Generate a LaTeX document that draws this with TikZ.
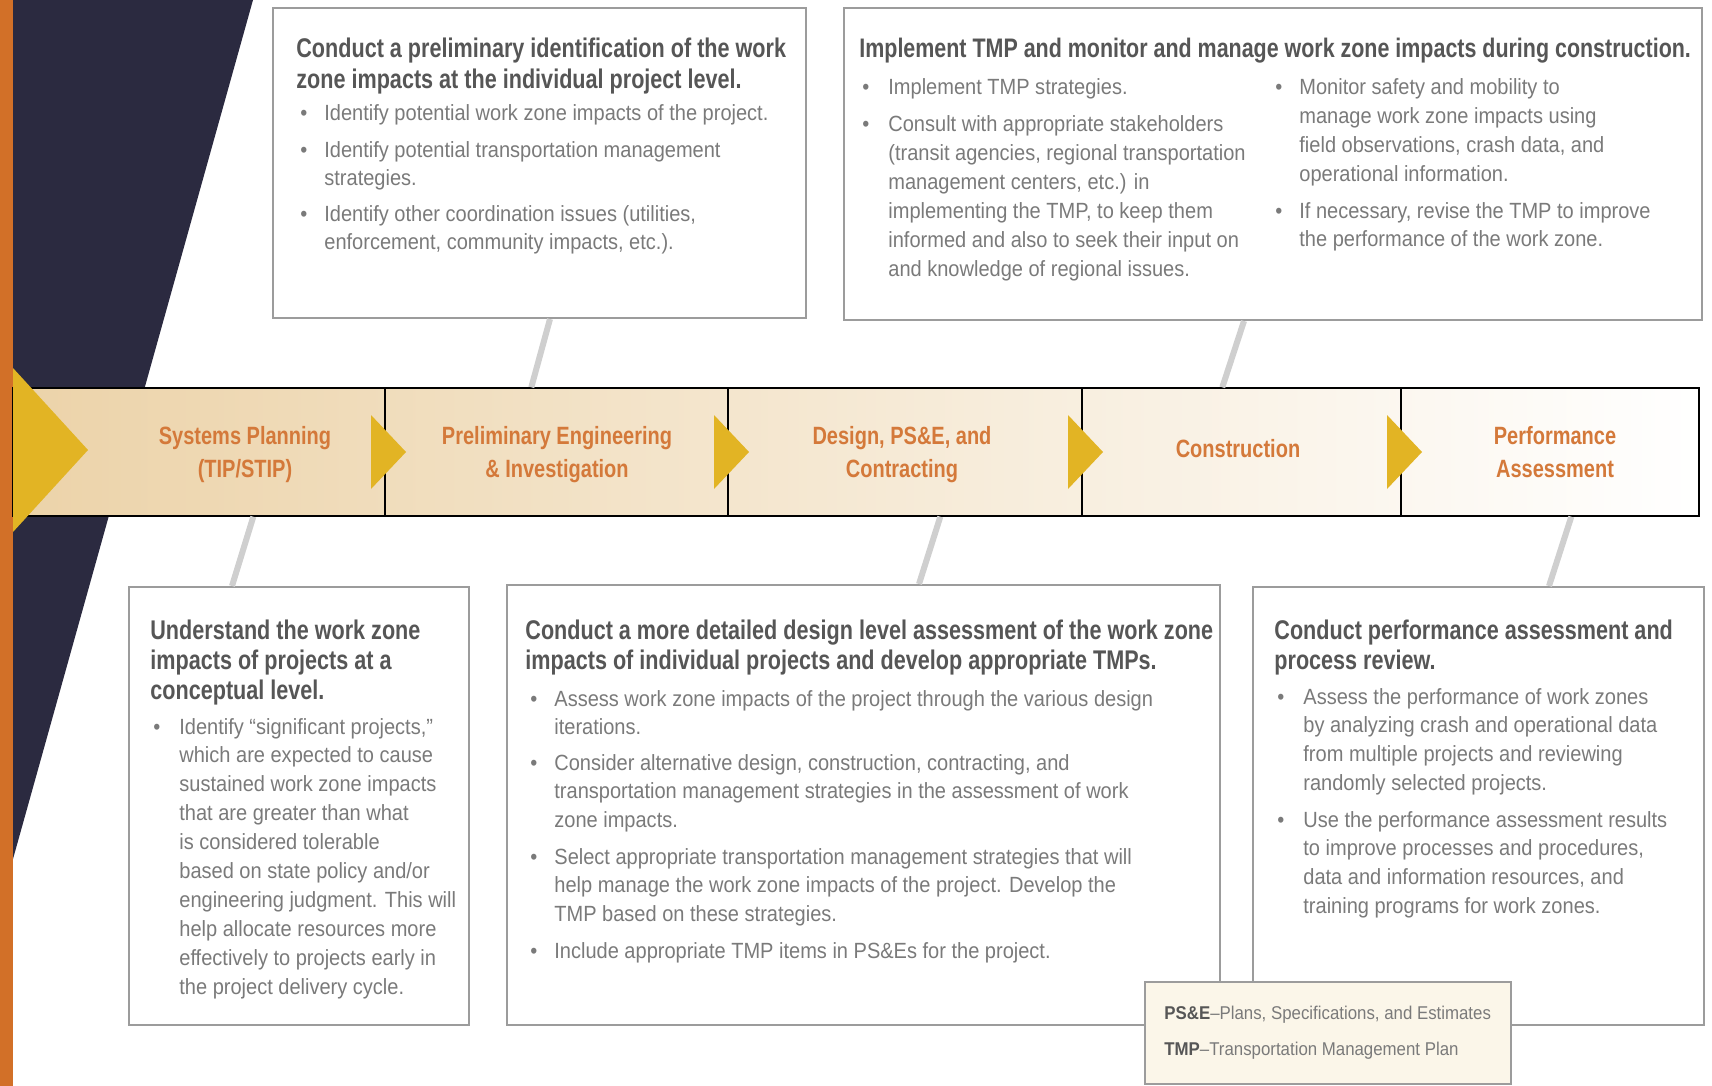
\documentclass[tikz,border=0pt]{standalone}
\usepackage{fontspec}
\setmainfont{Liberation Sans}[FakeStretch=0.91]
\newfontfamily\condb{Liberation Sans}[FakeStretch=0.8]
\usetikzlibrary{fit,calc}
\definecolor{navy}{HTML}{2B2A40}
\definecolor{orangebar}{HTML}{D27028}
\definecolor{arrowyel}{HTML}{E2B424}
\definecolor{bandtan}{HTML}{ECD3A9}
\definecolor{stageor}{HTML}{D4793A}
\definecolor{ttlgray}{HTML}{565656}
\definecolor{bodygray}{HTML}{7A7A7A}
\definecolor{boxgray}{HTML}{9C9C9C}
\definecolor{conngray}{HTML}{CFCFCF}
\definecolor{legcream}{HTML}{FBF6E9}
\newcommand\mlines[1]{\begin{tabular}[t]{@{}l@{}}#1\end{tabular}}
\begin{document}
\begin{tikzpicture}[x=0.5pt,y=-0.5pt,
  boxst/.style={draw=boxgray, line width=1pt, fill=white, inner sep=0pt},
  segst/.style={draw=black, line width=0.7pt, inner sep=0pt},
  ttl/.style={font=\condb\bfseries\fontsize{13.5}{15.2}\selectfont, text=ttlgray, inner sep=0pt, anchor=base west},
  bdy/.style={font=\fontsize{11}{14.45}\selectfont, text=bodygray, inner sep=0pt, anchor=base west},
  stage/.style={font=\condb\bfseries\fontsize{12.5}{16.5}\selectfont, text=stageor, align=center, inner sep=0pt},
  leg/.style={font=\fontsize{9.25}{11}\selectfont, text=bodygray, inner sep=0pt, anchor=base west},
  conn/.style={draw=conngray, line width=3pt},
  tri/.style={fill=arrowyel}
]
\useasboundingbox (0,0) rectangle (1712,1086);
\fill[white] (0,0) rectangle (1712,1086);
% background shapes
\fill[navy] (13,0) -- (253,0) -- (13,859) -- cycle;
\fill[orangebar] (0,0) rectangle (13,1086);

% band
\shade[left color=bandtan, right color=white] (13,388) rectangle (1699,516);
\node[segst, fit={(13,388) (385,516)}] (seg1) {};
\node[segst, fit={(385,388) (728,516)}] (seg2) {};
\node[segst, fit={(728,388) (1082,516)}] (seg3) {};
\node[segst, fit={(1082,388) (1401,516)}] (seg4) {};
\node[segst, fit={(1401,388) (1699,516)}] (seg5) {};
\fill[tri] (13,368) -- (88,450) -- (13,532) -- cycle;
\foreach \d in {385,728,1082,1401}{
  \fill[tri] (\d-14,415) -- (\d+21,452) -- (\d-14,489) -- cycle;
}
\node[stage] (lab1) at (245,455) {Systems Planning\\(TIP/STIP)};
\node[stage] (lab2) at (557,455) {Preliminary Engineering\\\& Investigation};
\node[stage] (lab3) at (902,455) {Design, PS\&E, and\\Contracting};
\node[stage] (lab4) at (1238,449) {Construction};
\node[stage] (lab5) at (1555,452) {Performance\\Assessment};

% boxes
\node[boxst, fit={(273,8) (806,318)}] (boxA) {};
\node[boxst, fit={(844,8) (1702,320)}] (boxB) {};
\node[boxst, fit={(129,587) (469,1025)}] (boxC) {};
\node[boxst, fit={(507,585) (1220,1025)}] (boxD) {};
\node[boxst, fit={(1253,587) (1704,1025)}] (boxE) {};

% connectors
\draw[conn] ($(boxA.south west)+(278,0)$) -- ($(seg2.north west)+(147,0)$);
\draw[conn] ($(boxB.south west)+(401,0)$) -- ($(seg4.north west)+(141,0)$);
\draw[conn] ($(seg1.south west)+(241,0)$) -- ($(boxC.north west)+(104,0)$);
\draw[conn] ($(seg3.south west)+(213,0)$) -- ($(boxD.north west)+(413,0)$);
\draw[conn] ($(seg5.south west)+(171,0)$) -- ($(boxE.north west)+(297,0)$);

% box A
\node[ttl] (tA) at (296,58) {\mlines{Conduct a preliminary identification of the work\\zone impacts at the individual project level.}};
\node[bdy] (dA1) at (300,120) {•};
\node[bdy] (iA1) at (324,120) {Identify potential work zone impacts of the project.};
\node[bdy] (dA2) at (300,157) {•};
\node[bdy] (iA2) at (324,157) {\mlines{Identify potential transportation management\\strategies.}};
\node[bdy] (dA3) at (300,221) {•};
\node[bdy] (iA3) at (324,221) {\mlines{Identify other coordination issues (utilities,\\enforcement, community impacts, etc.).}};

% box B
\node[ttl, font=\condb\bfseries\fontsize{13.4}{15.2}\selectfont] (tB) at (859,58) {Implement TMP and monitor and manage work zone impacts during construction.};
\node[bdy] (dB1) at (862,95) {•};
\node[bdy] (iB1) at (888,95) {Implement TMP strategies.};
\node[bdy] (dB2) at (862,132) {•};
\node[bdy] (iB2) at (888,132) {\mlines{Consult with appropriate stakeholders\\(transit agencies, regional transportation\\management centers, etc.) in\\implementing the TMP, to keep them\\informed and also to seek their input on\\and knowledge of regional issues.}};
\node[bdy] (dB3) at (1275,95) {•};
\node[bdy] (iB3) at (1299,95) {\mlines{Monitor safety and mobility to\\manage work zone impacts using\\field observations, crash data, and\\operational information.}};
\node[bdy] (dB4) at (1275,218) {•};
\node[bdy] (iB4) at (1299,218) {\mlines{If necessary, revise the TMP to improve\\the performance of the work zone.}};

% box C
\node[ttl] (tC) at (150,639) {\mlines{Understand the work zone\\impacts of projects at a\\conceptual level.}};
\node[bdy] (dC1) at (153,734) {•};
\node[bdy] (iC1) at (179,734) {\mlines{Identify “significant projects,”\\which are expected to cause\\sustained work zone impacts\\that are greater than what\\is considered tolerable\\based on state policy and/or\\engineering judgment. This will\\help allocate resources more\\effectively to projects early in\\the project delivery cycle.}};

% box D
\node[ttl] (tD) at (525,639) {\mlines{Conduct a more detailed design level assessment of the work zone\\impacts of individual projects and develop appropriate TMPs.}};
\node[bdy] (dD1) at (530,706) {•};
\node[bdy] (iD1) at (554,706) {\mlines{Assess work zone impacts of the project through the various design\\iterations.}};
\node[bdy] (dD2) at (530,770) {•};
\node[bdy] (iD2) at (554,770) {\mlines{Consider alternative design, construction, contracting, and\\transportation management strategies in the assessment of work\\zone impacts.}};
\node[bdy] (dD3) at (530,864) {•};
\node[bdy] (iD3) at (554,864) {\mlines{Select appropriate transportation management strategies that will\\help manage the work zone impacts of the project. Develop the\\TMP based on these strategies.}};
\node[bdy] (dD4) at (530,958) {•};
\node[bdy] (iD4) at (554,958) {Include appropriate TMP items in PS\&Es for the project.};

% box E
\node[ttl] (tE) at (1274,639) {\mlines{Conduct performance assessment and\\process review.}};
\node[bdy] (dE1) at (1277,704) {•};
\node[bdy] (iE1) at (1303,704) {\mlines{Assess the performance of work zones\\by analyzing crash and operational data\\from multiple projects and reviewing\\randomly selected projects.}};
\node[bdy] (dE2) at (1277,827) {•};
\node[bdy] (iE2) at (1303,827) {\mlines{Use the performance assessment results\\to improve processes and procedures,\\data and information resources, and\\training programs for work zones.}};

% legend
\node[boxst, fill=legcream, fit={(1145,982) (1511,1084)}] (legend) {};
\node[leg] (leg1) at (1164,1019) {\textcolor{ttlgray}{\bfseries PS\&E}–Plans, Specifications, and Estimates};
\node[leg] (leg2) at (1164,1055) {\textcolor{ttlgray}{\bfseries TMP}–Transportation Management Plan};
\end{tikzpicture}
\end{document}
